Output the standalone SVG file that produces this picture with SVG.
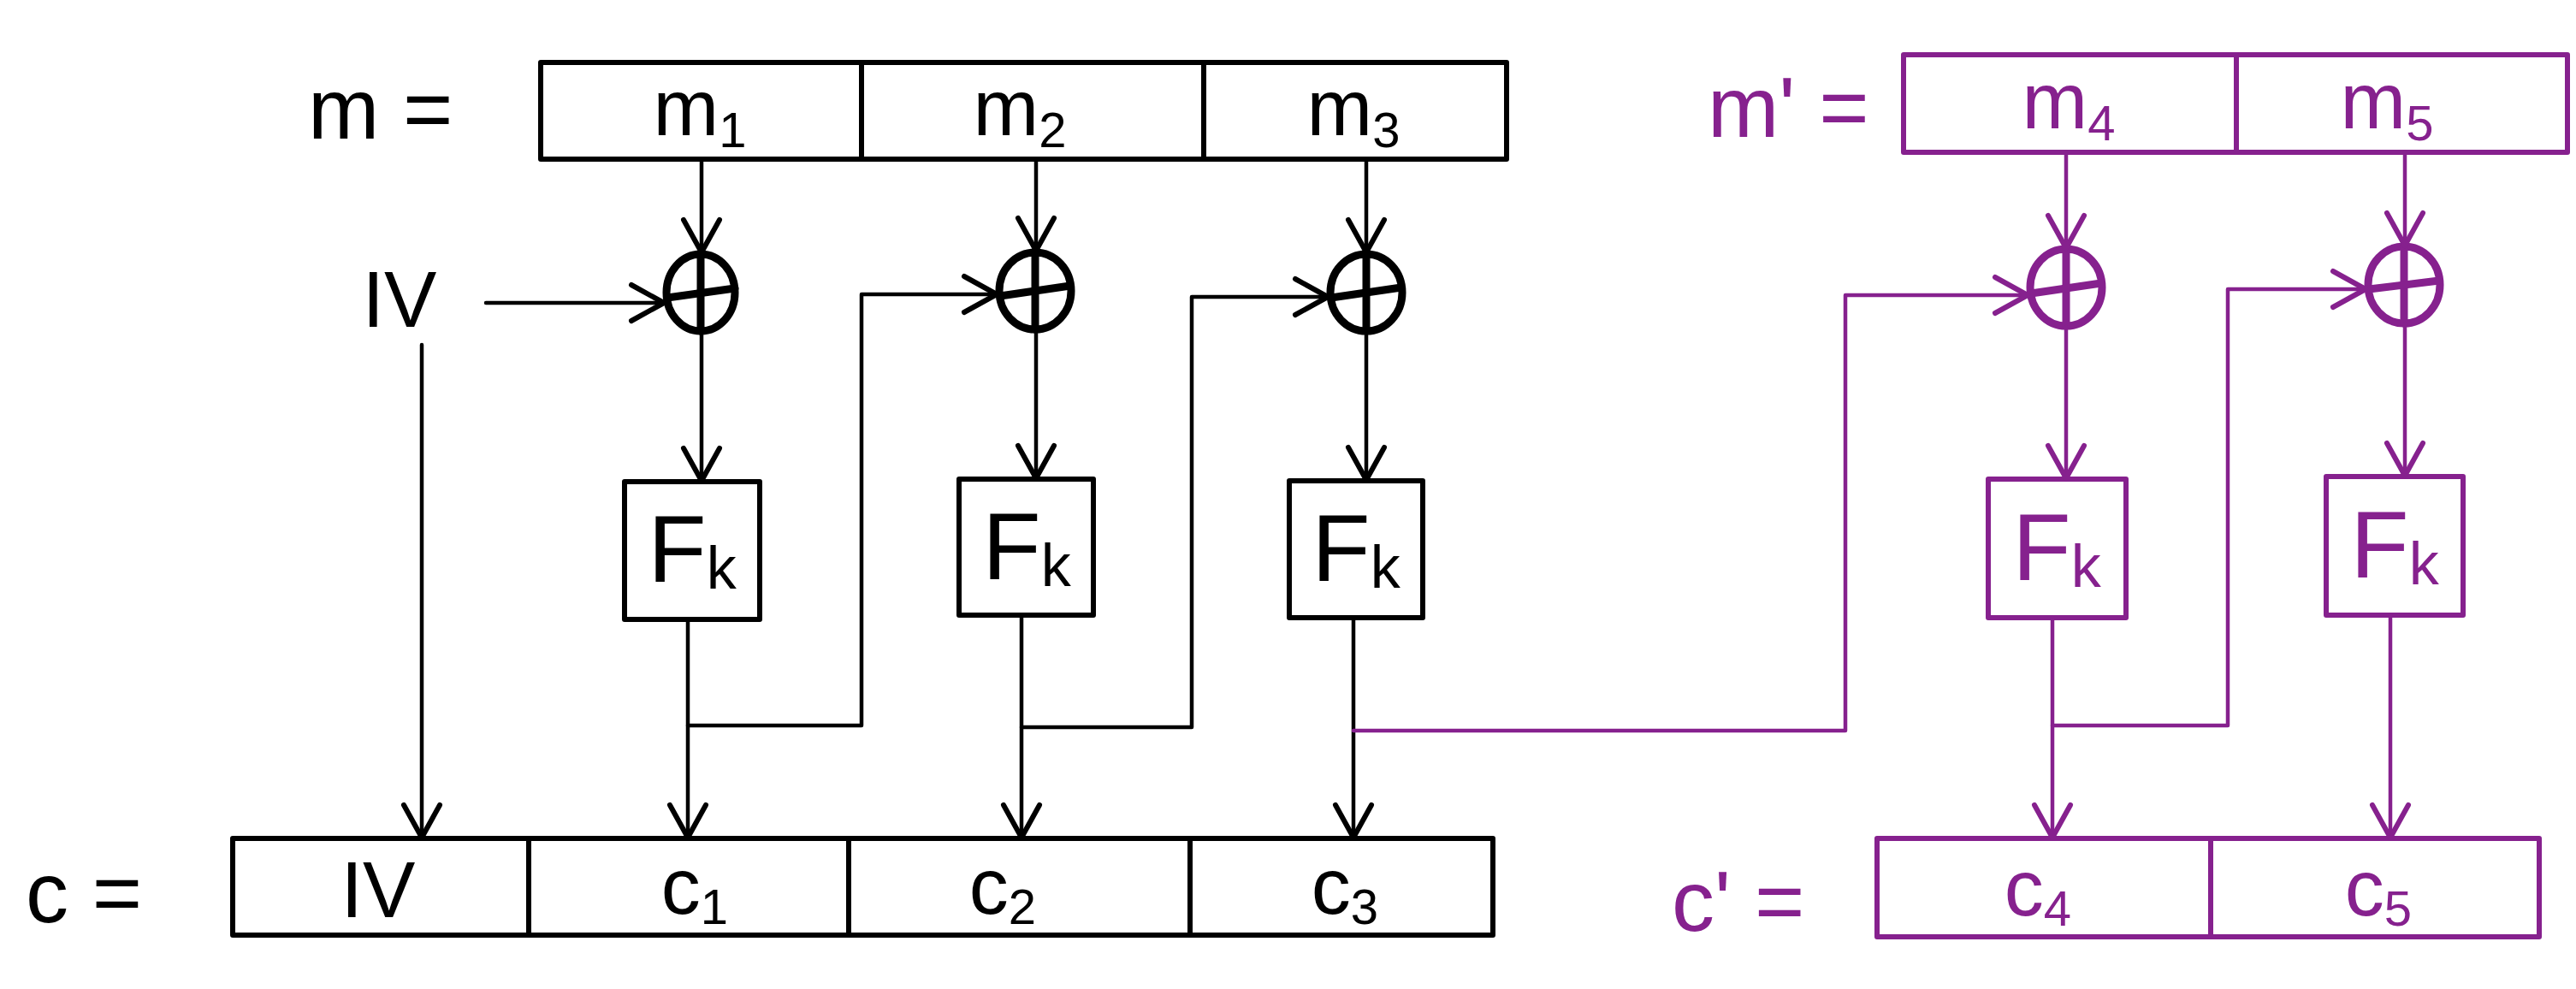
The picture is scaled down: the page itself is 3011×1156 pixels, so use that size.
<svg xmlns="http://www.w3.org/2000/svg" width="3011" height="1156" viewBox="0 0 3011 1156">
<style>
  .k { stroke: #000; fill: none; }
  .p { stroke: #86218e; fill: none; }
  .box { stroke-width: 6; stroke-linejoin: round; }
  .ln { stroke-width: 4.5; stroke-linecap: round; stroke-linejoin: round; }
  .xo { stroke-width: 9; stroke-linecap: round; }
  text { font-family: "Liberation Sans", "DejaVu Sans", sans-serif; }
  .tk { fill: #000; }
  .tp { fill: #86218e; }
  .lbl { font-size: 100px; }
  .cell { font-size: 92px; text-anchor: middle; }
  .sub { font-size: 58px; }
  .fk { font-size: 112px; text-anchor: middle; }
  .fsub { font-size: 70px; }
</style>
<defs>
  <marker id="ak" viewBox="-46 -28 52 56" refX="0" refY="0" markerWidth="52" markerHeight="56" markerUnits="userSpaceOnUse" orient="auto">
    <path d="M -38 -21 L 0 0 L -38 21" fill="none" stroke="#000" stroke-width="6" stroke-linecap="round" stroke-linejoin="round"/>
  </marker>
  <marker id="ap" viewBox="-46 -28 52 56" refX="0" refY="0" markerWidth="52" markerHeight="56" markerUnits="userSpaceOnUse" orient="auto">
    <path d="M -38 -21 L 0 0 L -38 21" fill="none" stroke="#86218e" stroke-width="6" stroke-linecap="round" stroke-linejoin="round"/>
  </marker>
</defs>

<!-- message m -->
<g id="m-row">
  <text class="lbl tk" x="360" y="162">m =</text>
  <rect class="k box" x="632" y="73" width="1129" height="113"/>
  <line class="k box" x1="1007" y1="73" x2="1007" y2="186"/>
  <line class="k box" x1="1407" y1="73" x2="1407" y2="186"/>
  <text class="cell tk" x="818" y="158">m<tspan class="sub" dy="14">1</tspan></text>
  <text class="cell tk" x="1192" y="158">m<tspan class="sub" dy="14">2</tspan></text>
  <text class="cell tk" x="1582" y="158">m<tspan class="sub" dy="14">3</tspan></text>
</g>

<g id="iv-label">
  <text class="tk" x="467" y="382" font-size="92" text-anchor="middle">IV</text>
</g>

<g id="xor1">
  <ellipse class="k xo" cx="819" cy="342" rx="40" ry="45"/>
  <line class="k xo" x1="819" y1="297" x2="819" y2="387"/>
  <line class="k xo" x1="780" y1="348" x2="859" y2="337"/>
</g>
<g id="xor2">
  <ellipse class="k xo" cx="1210" cy="340" rx="42" ry="45"/>
  <line class="k xo" x1="1210" y1="295" x2="1210" y2="385"/>
  <line class="k xo" x1="1169" y1="346" x2="1251" y2="334"/>
</g>
<g id="xor3">
  <ellipse class="k xo" cx="1597" cy="342" rx="42" ry="45"/>
  <line class="k xo" x1="1597" y1="297" x2="1597" y2="387"/>
  <line class="k xo" x1="1556" y1="348" x2="1638" y2="336"/>
</g>

<g id="f1">
  <rect class="k box" x="730" y="563" width="158" height="161"/>
  <text class="fk tk" x="809" y="680">F<tspan class="fsub" dy="8">k</tspan></text>
</g>
<g id="f2">
  <rect class="k box" x="1121" y="560" width="157" height="159"/>
  <text class="fk tk" x="1200" y="677">F<tspan class="fsub" dy="8">k</tspan></text>
</g>
<g id="f3">
  <rect class="k box" x="1507" y="562" width="156" height="160"/>
  <text class="fk tk" x="1585" y="679">F<tspan class="fsub" dy="8">k</tspan></text>
</g>

<g id="c-row">
  <text class="lbl tk" x="30" y="1078">c =</text>
  <rect class="k box" x="272" y="980" width="1473" height="113"/>
  <line class="k box" x1="618" y1="980" x2="618" y2="1093"/>
  <line class="k box" x1="992" y1="980" x2="992" y2="1093"/>
  <line class="k box" x1="1391" y1="980" x2="1391" y2="1093"/>
  <text class="cell tk" x="442" y="1072">IV</text>
  <text class="cell tk" x="812" y="1068">c<tspan class="sub" dy="12">1</tspan></text>
  <text class="cell tk" x="1172" y="1068">c<tspan class="sub" dy="12">2</tspan></text>
  <text class="cell tk" x="1572" y="1068">c<tspan class="sub" dy="12">3</tspan></text>
</g>

<!-- message m' -->
<g id="m2-row">
  <text class="lbl tp" x="1996" y="160">m' =</text>
  <rect class="p box" x="2225" y="64" width="776" height="114"/>
  <line class="p box" x1="2614" y1="64" x2="2614" y2="178"/>
  <text class="cell tp" x="2418" y="150">m<tspan class="sub" dy="14">4</tspan></text>
  <text class="cell tp" x="2790" y="150">m<tspan class="sub" dy="14">5</tspan></text>
</g>

<g id="xor4">
  <ellipse class="p xo" cx="2415" cy="336" rx="42" ry="45"/>
  <line class="p xo" x1="2415" y1="291" x2="2415" y2="381"/>
  <line class="p xo" x1="2374" y1="343" x2="2456" y2="331"/>
</g>
<g id="xor5">
  <ellipse class="p xo" cx="2810" cy="333" rx="42" ry="45"/>
  <line class="p xo" x1="2810" y1="288" x2="2810" y2="378"/>
  <line class="p xo" x1="2769" y1="338" x2="2851" y2="328"/>
</g>

<g id="f4">
  <rect class="p box" x="2324" y="560" width="161" height="162"/>
  <text class="fk tp" x="2404" y="678">F<tspan class="fsub" dy="8">k</tspan></text>
</g>
<g id="f5">
  <rect class="p box" x="2719" y="557" width="160" height="162"/>
  <text class="fk tp" x="2799" y="675">F<tspan class="fsub" dy="8">k</tspan></text>
</g>

<g id="c2-row">
  <text class="lbl tp" x="1954" y="1088">c' =</text>
  <rect class="p box" x="2194" y="980" width="774" height="115"/>
  <line class="p box" x1="2584" y1="980" x2="2584" y2="1095"/>
  <text class="cell tp" x="2382" y="1070">c<tspan class="sub" dy="12">4</tspan></text>
  <text class="cell tp" x="2780" y="1070">c<tspan class="sub" dy="12">5</tspan></text>
</g>

<g id="connectors">
  <!-- black -->
  <line class="k ln" x1="820" y1="186" x2="820" y2="295" marker-end="url(#ak)"/>
  <line class="k ln" x1="568" y1="354" x2="776" y2="354" marker-end="url(#ak)"/>
  <line class="k ln" x1="820" y1="388" x2="820" y2="562" marker-end="url(#ak)"/>
  <line class="k ln" x1="1211" y1="186" x2="1211" y2="293" marker-end="url(#ak)"/>
  <line class="k ln" x1="1211" y1="386" x2="1211" y2="559" marker-end="url(#ak)"/>
  <line class="k ln" x1="1597" y1="186" x2="1597" y2="295" marker-end="url(#ak)"/>
  <line class="k ln" x1="1597" y1="388" x2="1597" y2="561" marker-end="url(#ak)"/>
  <line class="k ln" x1="493" y1="403" x2="493" y2="979" marker-end="url(#ak)"/>
  <line class="k ln" x1="804" y1="724" x2="804" y2="979" marker-end="url(#ak)"/>
  <polyline class="k ln" points="804,848 1007,848 1007,344 1165,344" marker-end="url(#ak)"/>
  <line class="k ln" x1="1194" y1="719" x2="1194" y2="979" marker-end="url(#ak)"/>
  <polyline class="k ln" points="1194,850 1393,850 1393,347 1552,347" marker-end="url(#ak)"/>
  <line class="k ln" x1="1582" y1="722" x2="1582" y2="979" marker-end="url(#ak)"/>
  <!-- purple -->
  <polyline class="p ln" points="1582,854 2157,854 2157,345 2370,345" marker-end="url(#ap)"/>
  <line class="p ln" x1="2415" y1="178" x2="2415" y2="290" marker-end="url(#ap)"/>
  <line class="p ln" x1="2415" y1="382" x2="2415" y2="559" marker-end="url(#ap)"/>
  <line class="p ln" x1="2811" y1="178" x2="2811" y2="287" marker-end="url(#ap)"/>
  <line class="p ln" x1="2811" y1="379" x2="2811" y2="556" marker-end="url(#ap)"/>
  <line class="p ln" x1="2399" y1="722" x2="2399" y2="979" marker-end="url(#ap)"/>
  <polyline class="p ln" points="2399,848 2604,848 2604,338 2765,338" marker-end="url(#ap)"/>
  <line class="p ln" x1="2794" y1="719" x2="2794" y2="979" marker-end="url(#ap)"/>
</g>
</svg>
